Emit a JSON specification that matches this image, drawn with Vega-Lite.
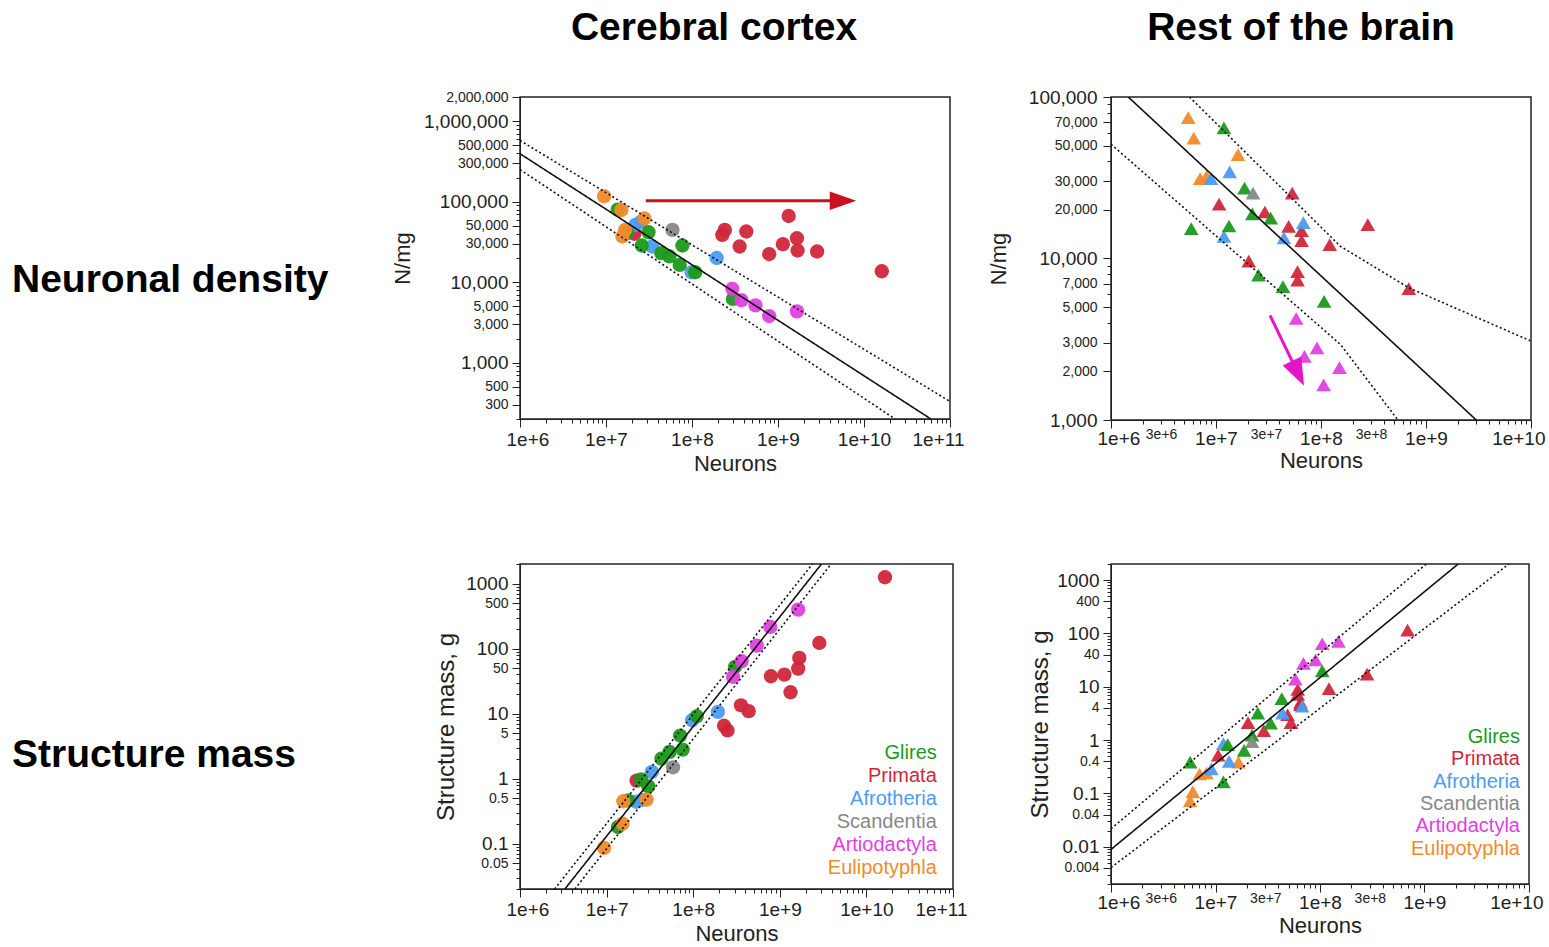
{
  "$schema": "https://vega.github.io/schema/vega-lite/v6.json",
  "padding": {"left": 12, "top": 8, "right": 0, "bottom": 0},
  "background": "white",
  "bounds": "flush",
  "columns": 3,
  "spacing": {"row": 144, "column": 158},
  "datasets": {
    "p1pts": [
      {"family": "Primata", "neurons": 2.14e7, "value": 40000},
      {"family": "Primata", "neurons": 2.25e8, "value": 38800},
      {"family": "Primata", "neurons": 2.41e8, "value": 44700},
      {"family": "Primata", "neurons": 4.28e8, "value": 42700},
      {"family": "Primata", "neurons": 3.58e8, "value": 27800},
      {"family": "Primata", "neurons": 7.9e8, "value": 22400},
      {"family": "Primata", "neurons": 1.33e9, "value": 66500},
      {"family": "Primata", "neurons": 1.14e9, "value": 29700},
      {"family": "Primata", "neurons": 1.66e9, "value": 35200},
      {"family": "Primata", "neurons": 1.69e9, "value": 24800},
      {"family": "Primata", "neurons": 2.85e9, "value": 24100},
      {"family": "Primata", "neurons": 1.61e10, "value": 13700},
      {"family": "Afrotheria", "neurons": 2.2e7, "value": 51500},
      {"family": "Afrotheria", "neurons": 2.56e7, "value": 56600},
      {"family": "Afrotheria", "neurons": 3.44e7, "value": 27800},
      {"family": "Afrotheria", "neurons": 9.9e7, "value": 13300},
      {"family": "Afrotheria", "neurons": 1.94e8, "value": 20000},
      {"family": "Glires", "neurons": 1.37e7, "value": 80000},
      {"family": "Glires", "neurons": 1.76e7, "value": 40600},
      {"family": "Glires", "neurons": 3.12e7, "value": 41800},
      {"family": "Glires", "neurons": 2.61e7, "value": 28600},
      {"family": "Glires", "neurons": 7.73e7, "value": 28600},
      {"family": "Glires", "neurons": 4.4e7, "value": 23000},
      {"family": "Glires", "neurons": 5.47e7, "value": 20900},
      {"family": "Glires", "neurons": 7.2e7, "value": 16400},
      {"family": "Glires", "neurons": 1.09e8, "value": 13300},
      {"family": "Glires", "neurons": 2.99e8, "value": 6200},
      {"family": "Eulipotyphla", "neurons": 9.5e6, "value": 117000},
      {"family": "Eulipotyphla", "neurons": 1.51e7, "value": 79000},
      {"family": "Eulipotyphla", "neurons": 2.8e7, "value": 62000},
      {"family": "Eulipotyphla", "neurons": 1.67e7, "value": 44700},
      {"family": "Eulipotyphla", "neurons": 1.55e7, "value": 37000},
      {"family": "Scandentia", "neurons": 5.93e7, "value": 44700},
      {"family": "Artiodactyla", "neurons": 2.94e8, "value": 8280},
      {"family": "Artiodactyla", "neurons": 3.76e8, "value": 6000},
      {"family": "Artiodactyla", "neurons": 5.47e8, "value": 5150},
      {"family": "Artiodactyla", "neurons": 7.9e8, "value": 3800},
      {"family": "Artiodactyla", "neurons": 1.66e9, "value": 4350}
    ],
    "p1lines": [
      {"line": "fit", "kind": "fit", "neurons": 1e6, "value": 395000},
      {"line": "fit", "kind": "fit", "neurons": 6e10, "value": 200},
      {"line": "upper", "kind": "ci", "neurons": 1e6, "value": 577000},
      {"line": "upper", "kind": "ci", "neurons": 1e11, "value": 330},
      {"line": "lower", "kind": "ci", "neurons": 1e6, "value": 251000},
      {"line": "lower", "kind": "ci", "neurons": 2.3e10, "value": 200}
    ],
    "p1arrow": [{"neurons": 2.9e7, "neurons2": 5e9, "value": 103000}],
    "p1head": [{"neurons": 5.7e9, "value": 103000}],
    "p2pts": [
      {"family": "Primata", "neurons": 1.07e7, "value": 21700},
      {"family": "Primata", "neurons": 2.92e7, "value": 19400},
      {"family": "Primata", "neurons": 5.32e7, "value": 25400},
      {"family": "Primata", "neurons": 4.92e7, "value": 15800},
      {"family": "Primata", "neurons": 6.53e7, "value": 14900},
      {"family": "Primata", "neurons": 6.53e7, "value": 12900},
      {"family": "Primata", "neurons": 1.21e8, "value": 12200},
      {"family": "Primata", "neurons": 2.05e7, "value": 9620},
      {"family": "Primata", "neurons": 5.98e7, "value": 8300},
      {"family": "Primata", "neurons": 5.98e7, "value": 7350},
      {"family": "Primata", "neurons": 2.79e8, "value": 16200},
      {"family": "Primata", "neurons": 6.85e8, "value": 6500},
      {"family": "Eulipotyphla", "neurons": 5.44e6, "value": 74500},
      {"family": "Eulipotyphla", "neurons": 6.14e6, "value": 55600},
      {"family": "Eulipotyphla", "neurons": 1.62e7, "value": 44000},
      {"family": "Eulipotyphla", "neurons": 7.06e6, "value": 31200},
      {"family": "Eulipotyphla", "neurons": 8.14e6, "value": 32400},
      {"family": "Afrotheria", "neurons": 1.35e7, "value": 34400},
      {"family": "Afrotheria", "neurons": 8.95e6, "value": 31200},
      {"family": "Afrotheria", "neurons": 1.19e7, "value": 13700},
      {"family": "Afrotheria", "neurons": 4.44e7, "value": 13400},
      {"family": "Afrotheria", "neurons": 6.79e7, "value": 16700},
      {"family": "Glires", "neurons": 1.19e7, "value": 64400},
      {"family": "Glires", "neurons": 1.87e7, "value": 27300},
      {"family": "Glires", "neurons": 2.22e7, "value": 18900},
      {"family": "Glires", "neurons": 3.32e7, "value": 17800},
      {"family": "Glires", "neurons": 5.81e6, "value": 15300},
      {"family": "Glires", "neurons": 1.33e7, "value": 15900},
      {"family": "Glires", "neurons": 2.54e7, "value": 7900},
      {"family": "Glires", "neurons": 4.34e7, "value": 6700},
      {"family": "Glires", "neurons": 1.07e8, "value": 5420},
      {"family": "Scandentia", "neurons": 2.25e7, "value": 25400},
      {"family": "Artiodactyla", "neurons": 5.8e7, "value": 4250},
      {"family": "Artiodactyla", "neurons": 9.16e7, "value": 2800},
      {"family": "Artiodactyla", "neurons": 6.95e7, "value": 2480},
      {"family": "Artiodactyla", "neurons": 1.5e8, "value": 2110},
      {"family": "Artiodactyla", "neurons": 1.06e8, "value": 1650}
    ],
    "p2lines": [
      {"line": "fit", "kind": "fit", "neurons": 1.46e6, "value": 100000},
      {"line": "fit", "kind": "fit", "neurons": 3.01e9, "value": 1000},
      {"line": "upper", "kind": "ci", "neurons": 5.6e6, "value": 100000},
      {"line": "upper", "kind": "ci", "neurons": 1.53e8, "value": 11900},
      {"line": "upper", "kind": "ci", "neurons": 6.85e8, "value": 6590},
      {"line": "upper", "kind": "ci", "neurons": 1e10, "value": 3080},
      {"line": "lower", "kind": "ci", "neurons": 1e6, "value": 51000},
      {"line": "lower", "kind": "ci", "neurons": 1.53e8, "value": 2940},
      {"line": "lower", "kind": "ci", "neurons": 5.4e8, "value": 1000}
    ],
    "p2arrow": [{"neurons": 3.27e7, "neurons2": 6.04e7, "value": 4440, "value2": 1946}],
    "p2head": [{"neurons": 6.04e7, "value": 1946}],
    "p3pts": [
      {"family": "Primata", "neurons": 2.22e7, "value": 0.93},
      {"family": "Primata", "neurons": 2.27e8, "value": 6.5},
      {"family": "Primata", "neurons": 2.49e8, "value": 5.5},
      {"family": "Primata", "neurons": 3.56e8, "value": 13.4},
      {"family": "Primata", "neurons": 4.37e8, "value": 10.9},
      {"family": "Primata", "neurons": 7.9e8, "value": 37.5},
      {"family": "Primata", "neurons": 1.13e9, "value": 39.8},
      {"family": "Primata", "neurons": 1.33e9, "value": 21.3},
      {"family": "Primata", "neurons": 1.68e9, "value": 71.8},
      {"family": "Primata", "neurons": 1.63e9, "value": 49.2},
      {"family": "Primata", "neurons": 2.86e9, "value": 122},
      {"family": "Primata", "neurons": 1.64e10, "value": 1250},
      {"family": "Afrotheria", "neurons": 2.2e7, "value": 0.44},
      {"family": "Afrotheria", "neurons": 2.6e7, "value": 0.47},
      {"family": "Afrotheria", "neurons": 3.33e7, "value": 1.27},
      {"family": "Afrotheria", "neurons": 9.73e7, "value": 7.9},
      {"family": "Afrotheria", "neurons": 1.93e8, "value": 10.6},
      {"family": "Glires", "neurons": 1.35e7, "value": 0.18},
      {"family": "Glires", "neurons": 1.78e7, "value": 0.46},
      {"family": "Glires", "neurons": 2.51e7, "value": 0.97},
      {"family": "Glires", "neurons": 3.03e7, "value": 0.76},
      {"family": "Glires", "neurons": 4.3e7, "value": 2.03},
      {"family": "Glires", "neurons": 5.33e7, "value": 2.57},
      {"family": "Glires", "neurons": 7.55e7, "value": 2.79},
      {"family": "Glires", "neurons": 7.07e7, "value": 4.59},
      {"family": "Glires", "neurons": 1.1e8, "value": 9.1},
      {"family": "Glires", "neurons": 3.03e8, "value": 52},
      {"family": "Eulipotyphla", "neurons": 9.35e6, "value": 0.0857},
      {"family": "Eulipotyphla", "neurons": 1.53e7, "value": 0.203},
      {"family": "Eulipotyphla", "neurons": 1.56e7, "value": 0.448},
      {"family": "Eulipotyphla", "neurons": 2.89e7, "value": 0.475},
      {"family": "Scandentia", "neurons": 5.85e7, "value": 1.49},
      {"family": "Artiodactyla", "neurons": 2.89e8, "value": 36.6},
      {"family": "Artiodactyla", "neurons": 3.62e8, "value": 63.8},
      {"family": "Artiodactyla", "neurons": 5.43e8, "value": 111},
      {"family": "Artiodactyla", "neurons": 7.76e8, "value": 215},
      {"family": "Artiodactyla", "neurons": 1.63e9, "value": 398}
    ],
    "p3lines": [
      {"line": "fit", "kind": "fit", "neurons": 3.3e6, "value": 0.02},
      {"line": "fit", "kind": "fit", "neurons": 3.03e9, "value": 2000},
      {"line": "upper", "kind": "ci", "neurons": 2.51e6, "value": 0.02},
      {"line": "upper", "kind": "ci", "neurons": 2.38e9, "value": 2000},
      {"line": "lower", "kind": "ci", "neurons": 4.3e6, "value": 0.02},
      {"line": "lower", "kind": "ci", "neurons": 3.91e9, "value": 2000}
    ],
    "p4pts": [
      {"family": "Primata", "neurons": 1.06e7, "value": 0.52},
      {"family": "Primata", "neurons": 2.05e7, "value": 2.13},
      {"family": "Primata", "neurons": 2.9e7, "value": 1.5},
      {"family": "Primata", "neurons": 4.89e7, "value": 2.98},
      {"family": "Primata", "neurons": 5.27e7, "value": 2.13},
      {"family": "Primata", "neurons": 6.12e7, "value": 8.9},
      {"family": "Primata", "neurons": 6.12e7, "value": 7.16},
      {"family": "Primata", "neurons": 6.49e7, "value": 4.62},
      {"family": "Primata", "neurons": 6.5e7, "value": 5.1},
      {"family": "Primata", "neurons": 1.22e8, "value": 9.2},
      {"family": "Primata", "neurons": 2.82e8, "value": 17.2},
      {"family": "Primata", "neurons": 6.89e8, "value": 115},
      {"family": "Eulipotyphla", "neurons": 5.72e6, "value": 0.072},
      {"family": "Eulipotyphla", "neurons": 6.07e6, "value": 0.107},
      {"family": "Eulipotyphla", "neurons": 7.05e6, "value": 0.231},
      {"family": "Eulipotyphla", "neurons": 8.18e6, "value": 0.241},
      {"family": "Eulipotyphla", "neurons": 1.66e7, "value": 0.385},
      {"family": "Afrotheria", "neurons": 1.19e7, "value": 0.86},
      {"family": "Afrotheria", "neurons": 9.14e6, "value": 0.288},
      {"family": "Afrotheria", "neurons": 1.35e7, "value": 0.397},
      {"family": "Afrotheria", "neurons": 4.38e7, "value": 3.21},
      {"family": "Afrotheria", "neurons": 6.74e7, "value": 4.3},
      {"family": "Glires", "neurons": 5.72e6, "value": 0.385},
      {"family": "Glires", "neurons": 1.19e7, "value": 0.165},
      {"family": "Glires", "neurons": 1.31e7, "value": 0.82},
      {"family": "Glires", "neurons": 1.88e7, "value": 0.64},
      {"family": "Glires", "neurons": 2.24e7, "value": 1.24},
      {"family": "Glires", "neurons": 2.54e7, "value": 3.21},
      {"family": "Glires", "neurons": 3.37e7, "value": 2.07},
      {"family": "Glires", "neurons": 4.31e7, "value": 6.0},
      {"family": "Glires", "neurons": 1.05e8, "value": 19.9},
      {"family": "Scandentia", "neurons": 2.24e7, "value": 0.93},
      {"family": "Artiodactyla", "neurons": 5.81e7, "value": 13.8},
      {"family": "Artiodactyla", "neurons": 6.94e7, "value": 27.5},
      {"family": "Artiodactyla", "neurons": 9.07e7, "value": 31.8},
      {"family": "Artiodactyla", "neurons": 1.05e8, "value": 64},
      {"family": "Artiodactyla", "neurons": 1.5e8, "value": 71}
    ],
    "p4lines": [
      {"line": "fit", "kind": "fit", "neurons": 1e6, "value": 0.0089},
      {"line": "fit", "kind": "fit", "neurons": 2.1e9, "value": 2000},
      {"line": "upper", "kind": "ci", "neurons": 1e6, "value": 0.0217},
      {"line": "upper", "kind": "ci", "neurons": 1.04e9, "value": 2000},
      {"line": "lower", "kind": "ci", "neurons": 1e6, "value": 0.00405},
      {"line": "lower", "kind": "ci", "neurons": 6.44e9, "value": 2000}
    ],
    "legend": [
      {"family": "Glires", "rank": 0},
      {"family": "Primata", "rank": 1},
      {"family": "Afrotheria", "rank": 2},
      {"family": "Scandentia", "rank": 3},
      {"family": "Artiodactyla", "rank": 4},
      {"family": "Eulipotyphla", "rank": 5}
    ]
  },
  "concat": [
    {
      "width": 350,
      "height": 323,
      "view": {"stroke": null},
      "data": {"values": [{"label": "Neuronal density"}]},
      "mark": {"type": "text", "fontSize": 39, "fontWeight": "bold", "font": "Liberation Sans", "align": "left", "baseline": "middle", "color": "black"},
      "encoding": {
        "x": {"datum": 0, "type": "quantitative", "scale": {"domain": [0, 1]}, "axis": null},
        "y": {"datum": 0.567, "type": "quantitative", "scale": {"domain": [0, 1], "reverse": true}, "axis": null},
        "text": {"field": "label", "type": "nominal"}
      }
    },
    {
      "width": 430,
      "height": 322,
      "title": {"text": "Cerebral cortex", "frame": "group", "anchor": "middle", "dx": -21, "offset": 11, "baseline": "alphabetic"},
      "layer": [
        {
          "data": {"name": "p1pts"},
          "mark": {"type": "circle", "size": 205, "opacity": 0.95},
          "encoding": {
            "x": {"field": "neurons", "type": "quantitative", "scale": {"type": "log", "domain": [1e6, 1e11], "nice": false},
              "axis": {"title": "Neurons", "titleFontSize": 22,
                "values": [1e6,2e6,3e6,4e6,5e6,6e6,7e6,8e6,9e6,1e7,2e7,3e7,4e7,5e7,6e7,7e7,8e7,9e7,1e8,2e8,3e8,4e8,5e8,6e8,7e8,8e8,9e8,1e9,2e9,3e9,4e9,5e9,6e9,7e9,8e9,9e9,1e10,2e10,3e10,4e10,5e10,6e10,7e10,8e10,9e10,1e11],
                "labelExpr": "indexof([1000000,10000000,100000000,1000000000,10000000000,100000000000], datum.value) >= 0 ? '1e+' + round(log(datum.value) / LN10) : ''",
                "labelFontSize": 19,
                "tickSize": {"condition": {"test": "indexof([1000000,10000000,100000000,1000000000,10000000000,100000000000], datum.value) >= 0", "value": 8}, "value": 4},
                "labelPadding": 3, "labelFlush": true, "labelFlushOffset": 14, "minExtent": 28, "maxExtent": 28, "titlePadding": 6}},
            "y": {"field": "value", "type": "quantitative", "scale": {"type": "log", "domain": [200, 2000000], "nice": false},
              "axis": {"title": "N/mg", "titleFontSize": 22,
                "values": [200,300,400,500,600,700,800,900,1000,2000,3000,4000,5000,6000,7000,8000,9000,10000,20000,30000,40000,50000,60000,70000,80000,90000,100000,200000,300000,400000,500000,600000,700000,800000,900000,1000000,2000000],
                "labelExpr": "indexof([2000000,1000000,500000,300000,100000,50000,30000,10000,5000,3000,1000,500,300], datum.value) >= 0 ? format(datum.value, ',') : ''",
                "labelFontSize": {"condition": {"test": "indexof([1000000,100000,10000,1000], datum.value) >= 0", "value": 19}, "value": 14},
                "tickSize": {"condition": {"test": "indexof([2000000,1000000,500000,300000,100000,50000,30000,10000,5000,3000,1000,500,300], datum.value) >= 0", "value": 8}, "value": 4},
                "labelPadding": 4, "minExtent": 100, "maxExtent": 100, "titlePadding": 6}},
            "color": {"field": "family", "type": "nominal", "scale": {"domain": ["Glires","Primata","Afrotheria","Scandentia","Artiodactyla","Eulipotyphla"], "range": ["#1b9a1b","#d1263a","#4b9cf2","#888888","#e23fe2","#f28a2b"]}, "legend": null}
          }
        },
        {
          "data": {"name": "p1lines"},
          "mark": {"type": "line", "clip": true, "color": "#111", "strokeWidth": 1.6},
          "encoding": {
            "x": {"field": "neurons", "type": "quantitative"},
            "y": {"field": "value", "type": "quantitative"},
            "detail": {"field": "line", "type": "nominal"},
            "strokeDash": {"field": "kind", "type": "nominal", "scale": {"domain": ["fit","ci"], "range": [[1,0],[2,2.5]]}, "legend": null}
          }
        },
        {
          "data": {"name": "p1arrow"},
          "mark": {"type": "rule", "color": "#c8101e", "strokeWidth": 3},
          "encoding": {
            "x": {"field": "neurons", "type": "quantitative"},
            "x2": {"field": "neurons2"},
            "y": {"field": "value", "type": "quantitative"}
          }
        },
        {
          "data": {"name": "p1head"},
          "mark": {"type": "point", "shape": "M1,0L-1,-0.7L-1,0.7Z", "size": 700, "filled": true, "opacity": 1, "color": "#c8101e"},
          "encoding": {
            "x": {"field": "neurons", "type": "quantitative"},
            "y": {"field": "value", "type": "quantitative"}
          }
        }
      ]
    },
    {
      "width": 420,
      "height": 323,
      "title": {"text": "Rest of the brain", "frame": "group", "anchor": "middle", "dx": -20, "offset": 9, "baseline": "alphabetic"},
      "layer": [
        {
          "data": {"name": "p2pts"},
          "mark": {"type": "point", "shape": "triangle-up", "filled": true, "size": 215, "opacity": 0.95},
          "encoding": {
            "x": {"field": "neurons", "type": "quantitative", "scale": {"type": "log", "domain": [1e6, 1e10], "nice": false},
              "axis": {"title": "Neurons", "titleFontSize": 22,
                "values": [1e6,2e6,3e6,4e6,5e6,6e6,7e6,8e6,9e6,1e7,2e7,3e7,4e7,5e7,6e7,7e7,8e7,9e7,1e8,2e8,3e8,4e8,5e8,6e8,7e8,8e8,9e8,1e9,2e9,3e9,4e9,5e9,6e9,7e9,8e9,9e9,1e10],
                "labelExpr": "indexof([1000000,3000000,10000000,30000000,100000000,300000000,1000000000,10000000000], datum.value) >= 0 ? round(datum.value / pow(10, floor(log(datum.value) / LN10 + 0.000001))) + 'e+' + floor(log(datum.value) / LN10 + 0.000001) : ''",
                "labelFontSize": {"condition": {"test": "indexof([1000000,10000000,100000000,1000000000,10000000000], datum.value) >= 0", "value": 19}, "value": 14},
                "labelBaseline": "middle",
                "tickSize": {"condition": {"test": "indexof([1000000,10000000,100000000,1000000000,10000000000], datum.value) >= 0", "value": 8}, "value": 4},
                "labelPadding": 10, "labelFlush": true, "labelFlushOffset": 14, "minExtent": 26, "maxExtent": 26, "titlePadding": 4}},
            "y": {"field": "value", "type": "quantitative", "scale": {"type": "log", "domain": [1000, 100000], "nice": false},
              "axis": {"title": "N/mg", "titleFontSize": 22,
                "values": [1000,2000,3000,4000,5000,6000,7000,8000,9000,10000,20000,30000,40000,50000,60000,70000,80000,90000,100000],
                "labelExpr": "indexof([100000,70000,50000,30000,20000,10000,7000,5000,3000,2000,1000], datum.value) >= 0 ? format(datum.value, ',') : ''",
                "labelFontSize": {"condition": {"test": "indexof([100000,10000,1000], datum.value) >= 0", "value": 19}, "value": 14},
                "tickSize": {"condition": {"test": "indexof([100000,70000,50000,30000,20000,10000,7000,5000,3000,2000,1000], datum.value) >= 0", "value": 8}, "value": 4},
                "labelPadding": 6, "minExtent": 95, "maxExtent": 95, "titlePadding": 6}},
            "color": {"field": "family", "type": "nominal", "scale": {"domain": ["Glires","Primata","Afrotheria","Scandentia","Artiodactyla","Eulipotyphla"], "range": ["#1b9a1b","#d1263a","#4b9cf2","#888888","#e23fe2","#f28a2b"]}, "legend": null}
          }
        },
        {
          "data": {"name": "p2lines"},
          "mark": {"type": "line", "clip": true, "color": "#111", "strokeWidth": 1.6},
          "encoding": {
            "x": {"field": "neurons", "type": "quantitative"},
            "y": {"field": "value", "type": "quantitative"},
            "detail": {"field": "line", "type": "nominal"},
            "strokeDash": {"field": "kind", "type": "nominal", "scale": {"domain": ["fit","ci"], "range": [[1,0],[2,2.5]]}, "legend": null}
          }
        },
        {
          "data": {"name": "p2arrow"},
          "mark": {"type": "rule", "color": "#e614c8", "strokeWidth": 3},
          "encoding": {
            "x": {"field": "neurons", "type": "quantitative"},
            "x2": {"field": "neurons2"},
            "y": {"field": "value", "type": "quantitative"},
            "y2": {"field": "value2"}
          }
        },
        {
          "data": {"name": "p2head"},
          "mark": {"type": "point", "shape": "M1,0L-1,-0.75L-1,0.75Z", "size": 760, "angle": 64, "filled": true, "opacity": 1, "color": "#e614c8"},
          "encoding": {
            "x": {"field": "neurons", "type": "quantitative"},
            "y": {"field": "value", "type": "quantitative"}
          }
        }
      ]
    },
    {
      "width": 350,
      "height": 325,
      "view": {"stroke": null},
      "data": {"values": [{"label": "Structure mass"}]},
      "mark": {"type": "text", "fontSize": 39, "fontWeight": "bold", "font": "Liberation Sans", "align": "left", "baseline": "middle", "color": "black"},
      "encoding": {
        "x": {"datum": 0, "type": "quantitative", "scale": {"domain": [0, 1]}, "axis": null},
        "y": {"datum": 0.588, "type": "quantitative", "scale": {"domain": [0, 1], "reverse": true}, "axis": null},
        "text": {"field": "label", "type": "nominal"}
      }
    },
    {
      "width": 433,
      "height": 325,
      "resolve": {"scale": {"y": "independent"}},
      "layer": [
        {
          "layer": [
            {
              "data": {"name": "p3pts"},
              "mark": {"type": "circle", "size": 205, "opacity": 0.95},
              "encoding": {
                "x": {"field": "neurons", "type": "quantitative", "scale": {"type": "log", "domain": [1e6, 1e11], "nice": false},
                  "axis": {"title": "Neurons", "titleFontSize": 22,
                    "values": [1e6,2e6,3e6,4e6,5e6,6e6,7e6,8e6,9e6,1e7,2e7,3e7,4e7,5e7,6e7,7e7,8e7,9e7,1e8,2e8,3e8,4e8,5e8,6e8,7e8,8e8,9e8,1e9,2e9,3e9,4e9,5e9,6e9,7e9,8e9,9e9,1e10,2e10,3e10,4e10,5e10,6e10,7e10,8e10,9e10,1e11],
                    "labelExpr": "indexof([1000000,10000000,100000000,1000000000,10000000000,100000000000], datum.value) >= 0 ? '1e+' + round(log(datum.value) / LN10) : ''",
                    "labelFontSize": 19,
                    "tickSize": {"condition": {"test": "indexof([1000000,10000000,100000000,1000000000,10000000000,100000000000], datum.value) >= 0", "value": 8}, "value": 4},
                    "labelPadding": 3, "labelFlush": true, "labelFlushOffset": 14, "minExtent": 28, "maxExtent": 28, "titlePadding": 6}},
                "y": {"field": "value", "type": "quantitative", "scale": {"type": "log", "domain": [0.02, 2000], "nice": false},
                  "axis": {"title": "Structure mass, g", "titleFontSize": 24,
                    "values": [0.02,0.03,0.04,0.05,0.06,0.07,0.08,0.09,0.1,0.2,0.3,0.4,0.5,0.6,0.7,0.8,0.9,1,2,3,4,5,6,7,8,9,10,20,30,40,50,60,70,80,90,100,200,300,400,500,600,700,800,900,1000,2000],
                    "labelExpr": "indexof([1000,500,100,50,10,5,1,0.5,0.1,0.05], datum.value) >= 0 ? '' + datum.value : ''",
                    "labelFontSize": {"condition": {"test": "indexof([1000,100,10,1,0.1], datum.value) >= 0", "value": 19}, "value": 14},
                    "tickSize": {"condition": {"test": "indexof([1000,500,100,50,10,5,1,0.5,0.1,0.05], datum.value) >= 0", "value": 8}, "value": 4},
                    "labelPadding": 4, "minExtent": 56, "maxExtent": 56, "titlePadding": 6}},
                "color": {"field": "family", "type": "nominal", "scale": {"domain": ["Glires","Primata","Afrotheria","Scandentia","Artiodactyla","Eulipotyphla"], "range": ["#1b9a1b","#d1263a","#4b9cf2","#888888","#e23fe2","#f28a2b"]}, "legend": null}
              }
            },
            {
              "data": {"name": "p3lines"},
              "mark": {"type": "line", "clip": true, "color": "#111", "strokeWidth": 1.6},
              "encoding": {
                "x": {"field": "neurons", "type": "quantitative"},
                "y": {"field": "value", "type": "quantitative"},
                "detail": {"field": "line", "type": "nominal"},
                "strokeDash": {"field": "kind", "type": "nominal", "scale": {"domain": ["fit","ci"], "range": [[1,0],[2,2.5]]}, "legend": null}
              }
            }
          ]
        },
        {
          "data": {"name": "legend"},
          "mark": {"type": "text", "align": "right", "baseline": "middle", "fontSize": 20, "font": "Liberation Sans"},
          "encoding": {
            "x": {"datum": 6.5e10, "type": "quantitative"},
            "y": {"field": "rank", "type": "quantitative", "scale": {"domain": [-8.22, 5.91], "reverse": true}, "axis": null},
            "text": {"field": "family", "type": "nominal"},
            "color": {"field": "family", "type": "nominal", "scale": {"domain": ["Glires","Primata","Afrotheria","Scandentia","Artiodactyla","Eulipotyphla"], "range": ["#1b9a1b","#d1263a","#4b9cf2","#888888","#e23fe2","#f28a2b"]}, "legend": null}
          }
        }
      ]
    },
    {
      "width": 418,
      "height": 320,
      "resolve": {"scale": {"y": "independent"}},
      "layer": [
        {
          "layer": [
            {
              "data": {"name": "p4pts"},
              "mark": {"type": "point", "shape": "triangle-up", "filled": true, "size": 215, "opacity": 0.95},
              "encoding": {
                "x": {"field": "neurons", "type": "quantitative", "scale": {"type": "log", "domain": [1e6, 1e10], "nice": false},
                  "axis": {"title": "Neurons", "titleFontSize": 22,
                    "values": [1e6,2e6,3e6,4e6,5e6,6e6,7e6,8e6,9e6,1e7,2e7,3e7,4e7,5e7,6e7,7e7,8e7,9e7,1e8,2e8,3e8,4e8,5e8,6e8,7e8,8e8,9e8,1e9,2e9,3e9,4e9,5e9,6e9,7e9,8e9,9e9,1e10],
                    "labelExpr": "indexof([1000000,3000000,10000000,30000000,100000000,300000000,1000000000,10000000000], datum.value) >= 0 ? round(datum.value / pow(10, floor(log(datum.value) / LN10 + 0.000001))) + 'e+' + floor(log(datum.value) / LN10 + 0.000001) : ''",
                    "labelFontSize": {"condition": {"test": "indexof([1000000,10000000,100000000,1000000000,10000000000], datum.value) >= 0", "value": 19}, "value": 14},
                    "labelBaseline": "middle",
                    "tickSize": {"condition": {"test": "indexof([1000000,10000000,100000000,1000000000,10000000000], datum.value) >= 0", "value": 8}, "value": 4},
                    "labelPadding": 10, "labelFlush": true, "labelFlushOffset": 14, "minExtent": 27, "maxExtent": 27, "titlePadding": 4}},
                "y": {"field": "value", "type": "quantitative", "scale": {"type": "log", "domain": [0.002, 2000], "nice": false},
                  "axis": {"title": "Structure mass, g", "titleFontSize": 24,
                    "values": [0.002,0.003,0.004,0.005,0.006,0.007,0.008,0.009,0.01,0.02,0.03,0.04,0.05,0.06,0.07,0.08,0.09,0.1,0.2,0.3,0.4,0.5,0.6,0.7,0.8,0.9,1,2,3,4,5,6,7,8,9,10,20,30,40,50,60,70,80,90,100,200,300,400,500,600,700,800,900,1000,2000],
                    "labelExpr": "indexof([1000,400,100,40,10,4,1,0.4,0.1,0.04,0.01,0.004], datum.value) >= 0 ? '' + datum.value : ''",
                    "labelFontSize": {"condition": {"test": "indexof([1000,100,10,1,0.1,0.01], datum.value) >= 0", "value": 19}, "value": 14},
                    "tickSize": {"condition": {"test": "indexof([1000,400,100,40,10,4,1,0.4,0.1,0.04,0.01,0.004], datum.value) >= 0", "value": 8}, "value": 4},
                    "labelPadding": 4, "minExtent": 53, "maxExtent": 53, "titlePadding": 6}},
                "color": {"field": "family", "type": "nominal", "scale": {"domain": ["Glires","Primata","Afrotheria","Scandentia","Artiodactyla","Eulipotyphla"], "range": ["#1b9a1b","#d1263a","#4b9cf2","#888888","#e23fe2","#f28a2b"]}, "legend": null}
              }
            },
            {
              "data": {"name": "p4lines"},
              "mark": {"type": "line", "clip": true, "color": "#111", "strokeWidth": 1.6},
              "encoding": {
                "x": {"field": "neurons", "type": "quantitative"},
                "y": {"field": "value", "type": "quantitative"},
                "detail": {"field": "line", "type": "nominal"},
                "strokeDash": {"field": "kind", "type": "nominal", "scale": {"domain": ["fit","ci"], "range": [[1,0],[2,2.5]]}, "legend": null}
              }
            }
          ]
        },
        {
          "data": {"name": "legend"},
          "mark": {"type": "text", "align": "right", "baseline": "middle", "fontSize": 20, "font": "Liberation Sans"},
          "encoding": {
            "x": {"datum": 8.2e9, "type": "quantitative"},
            "y": {"field": "rank", "type": "quantitative", "scale": {"domain": [-7.72, 6.57], "reverse": true}, "axis": null},
            "text": {"field": "family", "type": "nominal"},
            "color": {"field": "family", "type": "nominal", "scale": {"domain": ["Glires","Primata","Afrotheria","Scandentia","Artiodactyla","Eulipotyphla"], "range": ["#1b9a1b","#d1263a","#4b9cf2","#888888","#e23fe2","#f28a2b"]}, "legend": null}
          }
        }
      ]
    }
  ],
  "config": {
    "font": "Liberation Sans",
    "view": {"stroke": "#222", "strokeWidth": 1.5},
    "axis": {
      "labelFont": "Liberation Sans",
      "titleFont": "Liberation Sans",
      "titleFontWeight": "normal",
      "labelColor": "#222",
      "titleColor": "#222",
      "tickColor": "#222",
      "domainColor": "#222",
      "grid": false,
      "labelOverlap": false
    },
    "title": {"font": "Liberation Sans", "fontSize": 39, "fontWeight": "bold", "color": "black"}
  }
}
